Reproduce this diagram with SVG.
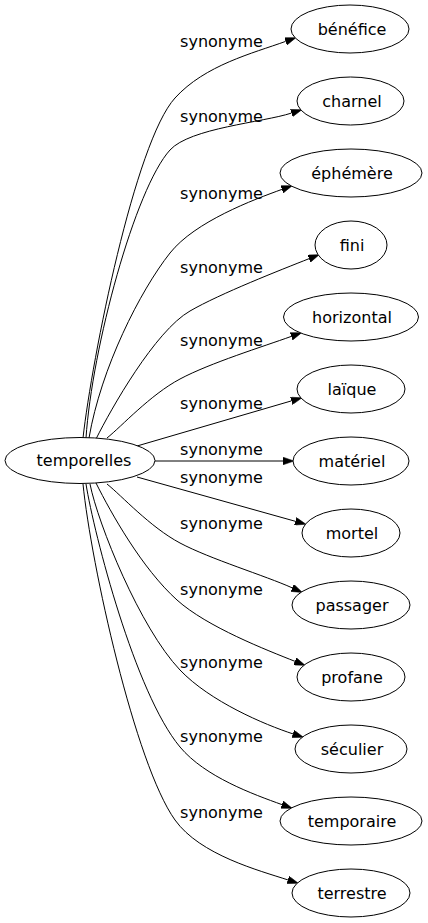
<svg xmlns="http://www.w3.org/2000/svg" width="428" height="923" viewBox="0 0 428 923">
<defs>
<style>
.n ellipse{fill:#fff;stroke:#000;stroke-width:1}
.n text,.lbl{font-family:"DejaVu Sans",sans-serif;font-size:16px;fill:#000;text-anchor:middle}
.e path{fill:none;stroke:#000;stroke-width:1;marker-end:url(#ah)}
</style>
<marker id="ah" markerUnits="userSpaceOnUse" markerWidth="11" markerHeight="8" refX="0" refY="3.5" orient="auto" viewBox="0 0 10 7">
<path d="M0,0 L10,3.5 L0,7 z" fill="#000" stroke="#000" stroke-width="0.5"/>
</marker>
</defs>
<rect width="428" height="923" fill="#fff"/>
<g id="edges" class="e">
<path d="M83,438 C92,358 135,142 175,98 C205,65 252.7,53.3 285.6,41.4"/>
<path d="M86,438 C92,348 135,188.5 170,150 C190,128 262.9,122.4 291.4,113.1"/>
<path d="M89,438 C101,368 140,291 170,253 C195,221.5 253.7,199.6 281.9,189.4"/>
<path d="M96,439 C111,409 155,331 190,311 C220,293.6 281,269.8 309,258.7"/>
<path d="M107,438 C122,426 150,395 180,379 C210,363 263,346.6 291.3,336.4"/>
<path d="M137,446 L291.4,400.9"/>
<path d="M155,461 L283,461"/>
<path d="M137,477 L295.4,521.3"/>
<path d="M107,484 C122,496 150,527 180,543 C210,559 265,575.6 292.3,587.9"/>
<path d="M96,483 C111,513 142,568.5 177,600 C207,627 267,650.2 294.9,661.3"/>
<path d="M90,484 C98,524 140,628 180,670 C210,701.5 264.5,724.6 293,733.9"/>
<path d="M86,484 C94,534 135,693 180,747 C205,777 253.7,794.4 281.9,804.6"/>
<path d="M83,484 C91,564 135,764 175,820 C200,855 259.4,870.6 287.9,879.9"/>
<text class="lbl" x="221.5" y="47">synonyme</text>
<text class="lbl" x="221.5" y="122">synonyme</text>
<text class="lbl" x="221.5" y="199">synonyme</text>
<text class="lbl" x="221.5" y="273">synonyme</text>
<text class="lbl" x="221.5" y="346">synonyme</text>
<text class="lbl" x="221.5" y="409">synonyme</text>
<text class="lbl" x="221.5" y="455">synonyme</text>
<text class="lbl" x="221.5" y="483">synonyme</text>
<text class="lbl" x="221.5" y="529">synonyme</text>
<text class="lbl" x="221.5" y="595">synonyme</text>
<text class="lbl" x="221.5" y="668">synonyme</text>
<text class="lbl" x="221.5" y="742">synonyme</text>
<text class="lbl" x="221.5" y="818">synonyme</text>
</g>
<g id="temporelles" class="n"><ellipse cx="80" cy="460.5" rx="75" ry="23"/><text x="84" y="466">temporelles</text></g>
<g id="benefice" class="n"><ellipse cx="350" cy="29" rx="59" ry="24"/><text x="352" y="34.5">bénéfice</text></g>
<g id="charnel" class="n"><ellipse cx="350.5" cy="101" rx="53.5" ry="24"/><text x="352" y="106.5">charnel</text></g>
<g id="ephemere" class="n"><ellipse cx="351" cy="173" rx="71" ry="24"/><text x="352" y="178.5">éphémère</text></g>
<g id="fini" class="n"><ellipse cx="351" cy="245" rx="36" ry="24"/><text x="352" y="250.5">fini</text></g>
<g id="horizontal" class="n"><ellipse cx="351" cy="317" rx="67.5" ry="24"/><text x="352" y="322.5">horizontal</text></g>
<g id="laique" class="n"><ellipse cx="351" cy="389" rx="54" ry="24"/><text x="352" y="394.5">laïque</text></g>
<g id="materiel" class="n"><ellipse cx="351" cy="461" rx="58" ry="24"/><text x="352" y="466.5">matériel</text></g>
<g id="mortel" class="n"><ellipse cx="351" cy="533" rx="49" ry="24"/><text x="352" y="538.5">mortel</text></g>
<g id="passager" class="n"><ellipse cx="351" cy="605" rx="59" ry="24"/><text x="352" y="610.5">passager</text></g>
<g id="profane" class="n"><ellipse cx="351" cy="677" rx="54" ry="24"/><text x="352" y="682.5">profane</text></g>
<g id="seculier" class="n"><ellipse cx="351" cy="749" rx="56" ry="24"/><text x="352" y="754.5">séculier</text></g>
<g id="temporaire" class="n"><ellipse cx="351" cy="821" rx="71" ry="24"/><text x="352" y="826.5">temporaire</text></g>
<g id="terrestre" class="n"><ellipse cx="351" cy="893" rx="59" ry="24"/><text x="352" y="898.5">terrestre</text></g>
</svg>
